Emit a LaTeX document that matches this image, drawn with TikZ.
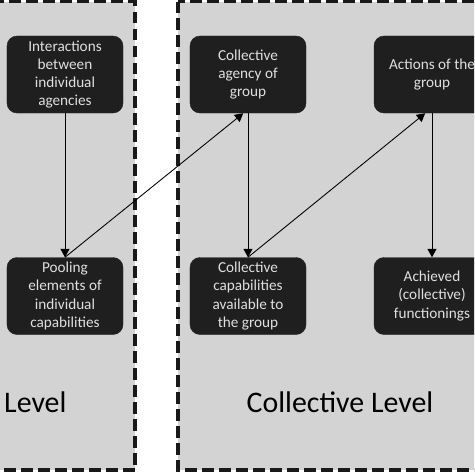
\documentclass[tikz,border=0pt]{standalone}
\usepackage{fontspec}
\setmainfont{Carlito}
\usetikzlibrary{arrows.meta,positioning}
\definecolor{panelgray}{HTML}{D3D3D3}
\definecolor{boxblack}{HTML}{1F1F1F}
\definecolor{boxtext}{HTML}{E0E0E0}
\tikzset{box/.style={draw=boxblack,fill=boxblack,text=boxtext,rounded corners=0.3cm,align=center,minimum width=3.48cm,minimum height=2.31cm,inner sep=2pt,font=\fontsize{13}{15.5}\selectfont},
  panel/.style={fill=panelgray,draw=black!90,line width=3.2pt,dash pattern=on 10pt off 4.5pt},
  arr/.style={-{Triangle[length=2.5mm,width=2.7mm]},line width=0.75pt},
  levellabel/.style={font=\fontsize{25.5}{30}\selectfont,inner sep=0pt}}

\begin{document}
\begin{tikzpicture}[x=0.03cm,y=-0.03cm]
\useasboundingbox (0,0) rectangle (474,474);
\clip (0,0) rectangle (474,474);
\fill[white] (0,0) rectangle (474,474);
\draw[panel] (-20,1.5) rectangle (135,470);
\draw[panel] (178,1.5) rectangle (520,470);
\node[box] (interact) at (65,74.5){Interactions\\between\\individual\\agencies};
\node[box] (agency) at (248,74.5){Collective\\agency of\\group};
\node[box] (actions) at (432,74.5){Actions of the\\group};
\node[box] (pooling) at (65,296){Pooling\\elements of\\individual\\capabilities};
\node[box] (capab) at (248,296){Collective\\capabilities\\available to\\the group};
\node[box] (achieved) at (432,296){Achieved\\(collective)\\functionings};
\draw[arr] (interact)--(pooling);
\draw[arr] (pooling.north)--(agency.-97);
\draw[arr] (agency)--(capab);
\draw[arr] (capab.north)--(actions.-100);
\draw[arr] (actions)--(achieved);
\node[levellabel,anchor=west] (indlevel) at (4,402){Level};
\node[levellabel] (collevel) at (340,402){Collective Level};
\end{tikzpicture}
\end{document}
